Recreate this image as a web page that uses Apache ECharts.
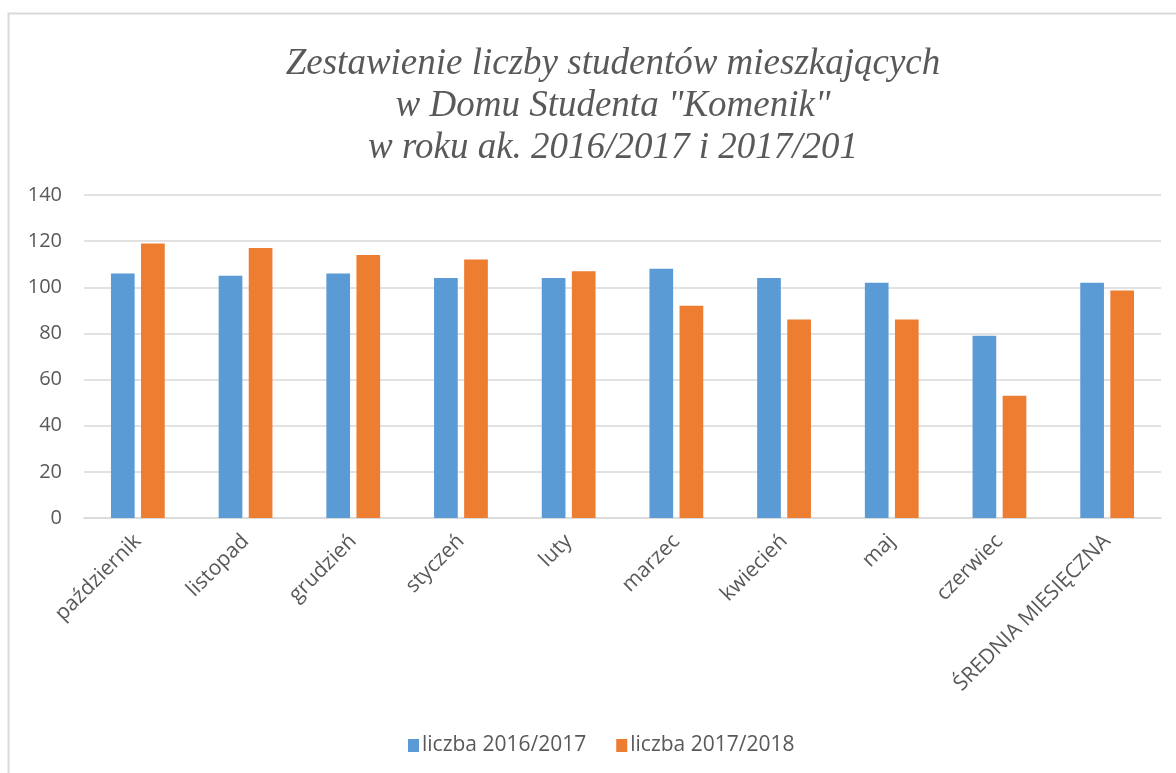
<!DOCTYPE html>
<html>
<head>
<meta charset="utf-8">
<style>
  html, body { margin: 0; padding: 0; background: #fff; }
  #chart { width: 1176px; height: 773px; }
</style>
<script src="https://cdn.jsdelivr.net/npm/echarts@6/dist/echarts.min.js"></script>
</head>
<body>
<div id="chart"></div>
<script>
// months of the academic year + monthly average
const categories = ['październik', 'listopad', 'grudzień', 'styczeń', 'luty', 'marzec', 'kwiecień', 'maj', 'czerwiec', 'ŚREDNIA MIESIĘCZNA']
const seriesNames = ['liczba 2016/2017', 'liczba 2017/2018']
const values2016 = [106, 105, 106, 104, 104, 108, 104, 102, 79, 102]
const values2017 = [119, 117, 114, 112, 107, 92, 86, 86, 53, 98.6]
const yTicks = { min: 0, max: 140, interval: 20 }

const titleText = 'Zestawienie liczby studentów mieszkających\nw Domu Studenta "Komenik"\nw roku ak. 2016/2017 i 2017/201'

const labelColor = '#595959'
const gridColor = '#d9d9d9'

const myChart = echarts.init(document.getElementById('chart'))

const option = {
  animation: false,
  color: ['#5b9bd5', '#ed7d31'],
  graphic: [{
    type: 'rect',
    left: 6,
    top: 11,
    shape: { width: 1200, height: 800 },
    style: { fill: 'none', stroke: gridColor, lineWidth: 2 },
    silent: true
  }],
  title: {
    text: titleText,
    left: 608,
    textAlign: 'center',
    top: 38,
    textStyle: {
      fontFamily: 'Liberation Serif',
      fontStyle: 'italic',
      fontWeight: 'normal',
      fontSize: 37,
      lineHeight: 42,
      color: labelColor
    }
  },
  legend: {
    data: seriesNames,
    left: 403,
    top: 730,
    icon: 'rect',
    itemWidth: 11,
    itemHeight: 13,
    itemGap: 30,
    textStyle: {
      fontFamily: 'Open Sans',
      fontSize: 21,
      color: labelColor,
      padding: [0, 0, 0, -2]
    }
  },
  grid: {
    left: 84,
    right: 15,
    top: 195,
    bottom: 255,
    containLabel: false
  },
  xAxis: {
    type: 'category',
    data: categories,
    axisLine: { lineStyle: { color: gridColor, width: 1.5 } },
    axisTick: { show: false },
    axisLabel: {
      rotate: 45,
      interval: 0,
      margin: 20,
      fontFamily: 'Open Sans',
      fontSize: 21,
      color: labelColor
    }
  },
  yAxis: {
    type: 'value',
    min: yTicks.min,
    max: yTicks.max,
    interval: yTicks.interval,
    axisLine: { show: false },
    axisTick: { show: false },
    axisLabel: {
      margin: 22,
      fontFamily: 'Open Sans',
      fontSize: 20,
      color: labelColor
    },
    splitLine: { lineStyle: { color: gridColor, width: 1.5 } }
  },
  series: [
    {
      name: seriesNames[0],
      type: 'bar',
      data: values2016,
      barWidth: '22%',
      barGap: '27%'
    },
    {
      name: seriesNames[1],
      type: 'bar',
      data: values2017,
      barWidth: '22%',
      barGap: '27%'
    }
  ]
}

myChart.setOption(option)
</script>
</body>
</html>
